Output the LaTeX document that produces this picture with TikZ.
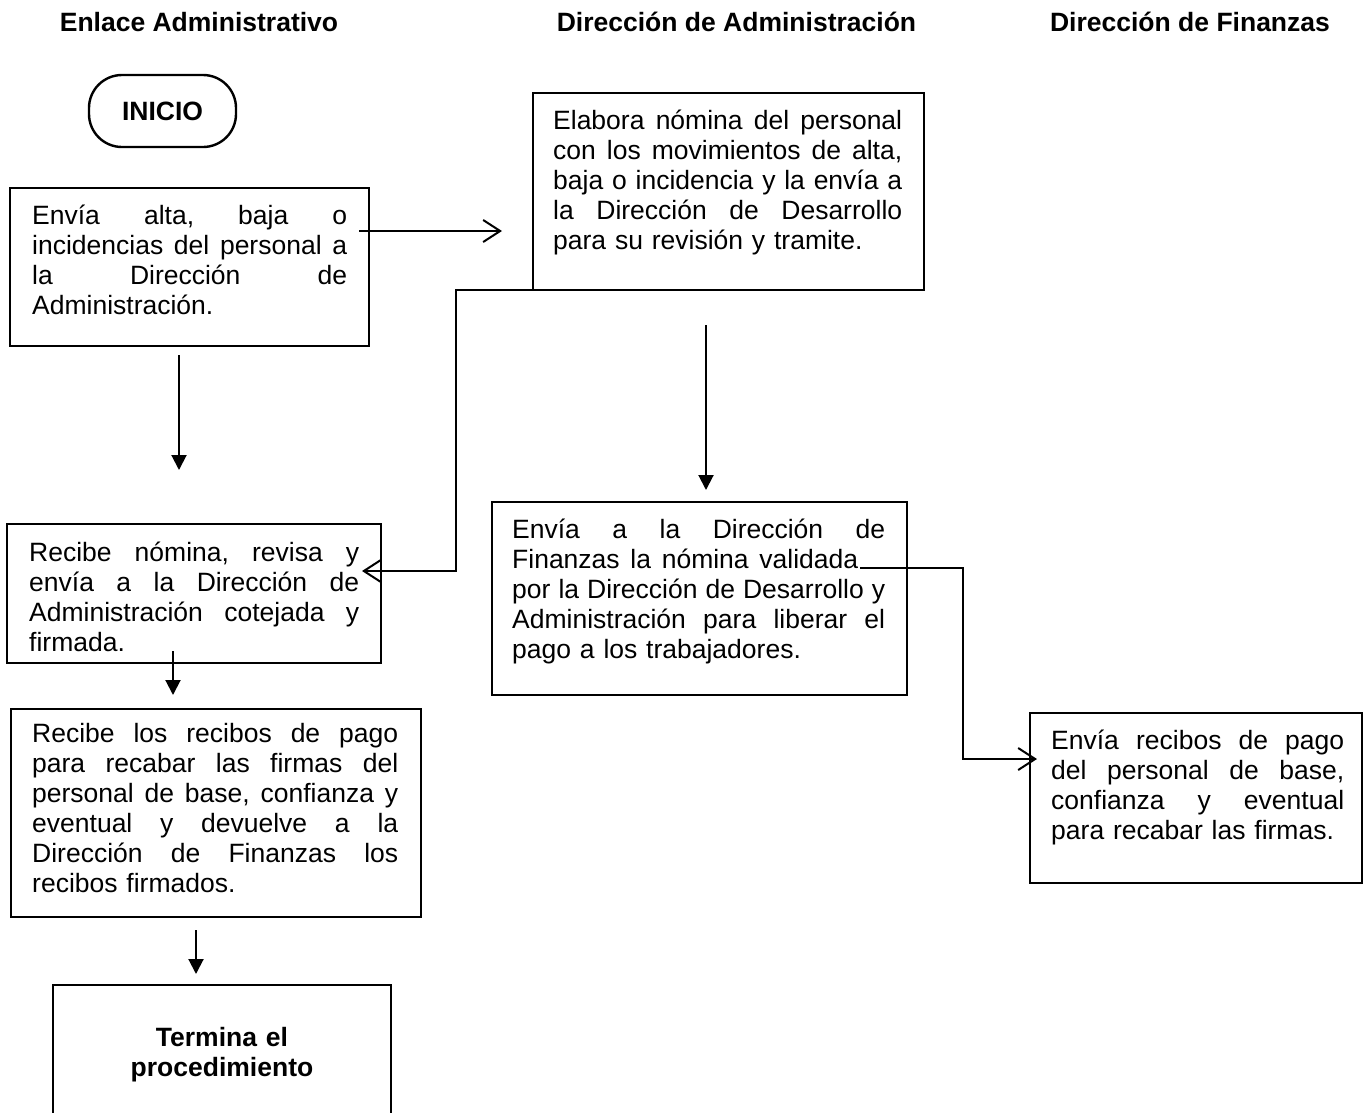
\documentclass[tikz,border=0pt]{standalone}
\usepackage{fontspec}
\setmainfont{Liberation Sans}
\usetikzlibrary{arrows.meta,calc}
\setlength{\parindent}{0pt}
\frenchspacing
% one fully justified line: word spaces stretch to fill the given width
\newcommand\jline[2]{\leavevmode\hbox to #1{\spaceskip=0.278em plus 1fil\relax #2}}
\begin{document}
\begin{tikzpicture}[x=1pt,y=-1pt,
  box/.style={draw, line width=2.4pt, inner sep=0pt, outer sep=0pt, rectangle},
  body/.style={anchor=base west, inner sep=0pt, align=left, font=\fontsize{26.5}{30}\selectfont},
  head/.style={anchor=base, inner sep=0pt, font=\fontsize{26.5}{30}\selectfont\bfseries},
  flow/.style={line width=2pt, -{Triangle[length=15pt,width=15pt]}},
  barb/.style={line width=2pt, -{Straight Barb[length=17pt,width=22pt]}}
]
\useasboundingbox (0,0) rectangle (1363,1112);
\clip (0,0) rectangle (1363,1112);

% column headings
\node[head] (h1) at (199,31) {Enlace Administrativo};
\node[head] (h2) at (736.5,31) {Dirección de Administración};
\node[head] (h3) at (1190,31) {Dirección de Finanzas};

% start terminal
\node[box, rounded corners=33pt, minimum width=147pt, minimum height=72pt,
      font=\fontsize{26.5}{30}\selectfont\bfseries] (ini) at (162.5,111) {INICIO};

% process boxes
\node[box, minimum width=359pt, minimum height=158pt] (b1) at (189.5,267) {};
\node[body, text width=315pt] (t1) at (32,224)
  {\jline{315pt}{Envía alta, baja o}\\
   \jline{315pt}{incidencias del personal a}\\
   \jline{315pt}{la Dirección de}\\
   Administración.};

\node[box, minimum width=391pt, minimum height=197pt] (b2) at (728.5,191.5) {};
\node[body, text width=349pt] (t2) at (553,129)
  {\jline{349pt}{Elabora nómina del personal}\\
   \jline{349pt}{con los movimientos de alta,}\\
   \jline{349pt}{baja o incidencia y la envía a}\\
   \jline{349pt}{la Dirección de Desarrollo}\\
   para su revisión y tramite.};

\node[box, minimum width=374pt, minimum height=139pt] (b3) at (194,593.5) {};
\node[body, text width=330pt] (t3) at (29,561)
  {\jline{330pt}{Recibe nómina, revisa y}\\
   \jline{330pt}{envía a la Dirección de}\\
   \jline{330pt}{Administración cotejada y}\\
   firmada.};

\node[box, minimum width=415pt, minimum height=193pt] (b4) at (699.5,598.5) {};
\node[body, text width=373pt] (t4) at (512,538)
  {\jline{373pt}{Envía a la Dirección de}\\
   \jline{346pt}{Finanzas la nómina validada}\\
   \jline{373pt}{por la Dirección de Desarrollo y}\\
   \jline{373pt}{Administración para liberar el}\\
   pago a los trabajadores.};

\node[box, minimum width=332pt, minimum height=170pt] (b5) at (1196,798) {};
\node[body, text width=293pt] (t5) at (1051,749)
  {\jline{293pt}{Envía recibos de pago}\\
   \jline{293pt}{del personal de base,}\\
   \jline{293pt}{confianza y eventual}\\
   para recabar las firmas.};

\node[box, minimum width=410pt, minimum height=208pt] (b6) at (216,813) {};
\node[body, text width=366pt] (t6) at (32,742)
  {\jline{366pt}{Recibe los recibos de pago}\\
   \jline{366pt}{para recabar las firmas del}\\
   \jline{366pt}{personal de base, confianza y}\\
   \jline{366pt}{eventual y devuelve a la}\\
   \jline{366pt}{Dirección de Finanzas los}\\
   recibos firmados.};

% end box
\node[box, minimum width=338pt, minimum height=140pt] (b7) at (222,1055) {};
\node[anchor=base, inner sep=0pt, text width=338pt, align=center,
      font=\fontsize{26.5}{30}\selectfont\bfseries] (t7) at (222,1046)
  {Termina el\\procedimiento};

% connectors
\draw[barb] ($(b1.north east)+(-10,43)$) -- ++(143,0);
\draw[flow] ($(b1.south)+(-10.5,9)$) -- ++(0,115);
\draw[barb] ($(b2.south west)+(17,0)$) -- ++(-94,0) -- ++(0,281) -- ++(-94,0);
\draw[flow] ($(b2.south)+(-22.5,35)$) -- ++(0,165);
\draw[flow] ($(b3.south)+(-21,-12)$) -- ++(0,44);
\draw[barb] ($(b4.north east)+(-47,66)$) -- ++(103,0) -- ++(0,191) -- ++(74,0);
\draw[flow] ($(b6.south)+(-20,13)$) -- ++(0,44);
\end{tikzpicture}
\end{document}
